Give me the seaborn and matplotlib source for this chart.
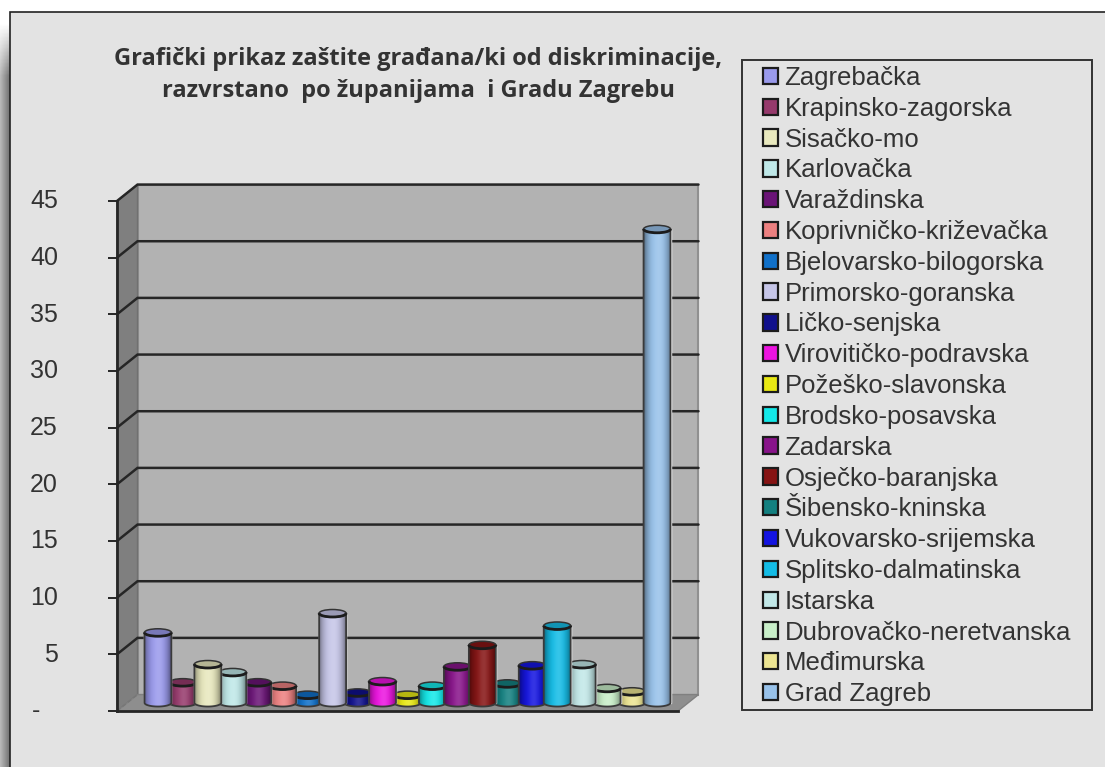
import numpy as np
import pandas as pd
import matplotlib
matplotlib.use("Agg")
import matplotlib.pyplot as plt
import matplotlib.colors as mcolors
from matplotlib.patches import Rectangle, Polygon, Ellipse, Arc
from matplotlib.transforms import ScaledTranslation
import seaborn as sns

counties = ["Zagrebačka", "Krapinsko-zagorska", "Sisačko-mo", "Karlovačka", "Varaždinska",
            "Koprivničko-križevačka", "Bjelovarsko-bilogorska", "Primorsko-goranska",
            "Ličko-senjska", "Virovitičko-podravska", "Požeško-slavonska", "Brodsko-posavska",
            "Zadarska", "Osječko-baranjska", "Šibensko-kninska", "Vukovarsko-srijemska",
            "Splitsko-dalmatinska", "Istarska", "Dubrovačko-neretvanska", "Međimurska",
            "Grad Zagreb"]
cases = [6.2, 1.8, 3.4, 2.7, 1.8, 1.5, 0.7, 7.9, 0.9, 1.9, 0.7, 1.5, 3.2, 5.1, 1.7, 3.3,
         6.8, 3.4, 1.3, 1.0, 41.8]
y_ticks = [0, 5, 10, 15, 20, 25, 30, 35, 40, 45]
y_tick_labels = ["-\u2002\u2009", "5", "10", "15", "20", "25", "30", "35", "40", "45"]
title = "Grafički prikaz zaštite građana/ki od diskriminacije,\nrazvrstano  po županijama  i Gradu Zagrebu"
colors = ["#9A9AEC", "#963A6C", "#E8E8BE", "#BFE8E8", "#6A1476", "#EC8080", "#1070C8",
          "#C6C6E8", "#10108C", "#EC14E0", "#E8E814", "#14E8E8", "#88148A", "#861414",
          "#148080", "#1414E0", "#14BCE6", "#C2E8E8", "#C8EEC8", "#ECE492", "#98C2EA"]

W, H = 1105, 767
sns.set_theme(style="white")
plt.rcParams["font.family"] = ["Liberation Sans", "DejaVu Sans"]
DARK = "#262626"
TEXT = "#333333"

fig = plt.figure(figsize=(W / 100, H / 100), dpi=100, facecolor="white")

# page panel and its soft left shadow
shadow = fig.add_axes([0, 0, 10 / W, 1 - 22 / H], zorder=-3)
grad = np.linspace(0.72, 0.42, 12)[None, :].repeat(200, 0)
fade = np.clip(np.linspace(0, 1, 200) * 14, 0, 1)[:, None]
shadow.imshow(1 - fade * (1 - grad), cmap="gray", vmin=0, vmax=1, aspect="auto")
shadow.axis("off")
fig.add_artist(Rectangle((10 / W, -0.1), 1.1, 1.1 - 12 / H, transform=fig.transFigure,
                         fc="#E3E3E3", ec="#222222", lw=1.2, zorder=-2))

ax = fig.add_axes([117 / W, (H - 711) / H, 561 / W, 510 / H])
ax.patch.set_visible(False)

df = pd.DataFrame({"county": counties, "cases": cases})
sns.barplot(data=df, x="county", y="cases", hue="county", palette=colors, hue_order=counties,
            order=counties, dodge=False, width=1.08, saturation=1, legend=True, ax=ax,
            zorder=3)
handles, labels = ax.get_legend_handles_labels()
ax.get_legend().remove()
bars = sorted(list(ax.patches), key=lambda p: p.get_x())
bars = [b for b in bars if b.get_height() > 0]

ax.set_xlim(-1.64, 20.84)
ax.set_ylim(0, 45)
ax.set_xlabel("")
ax.set_ylabel("")
ax.set_xticks([])
ax.set_yticks(y_ticks)
ax.set_yticklabels(y_tick_labels, fontsize=18, color=TEXT)
ax.tick_params(axis="y", left=True, length=6.5, width=1.4, color=DARK, pad=36)
for lab in ax.get_yticklabels():
    lab.set_transform(lab.get_transform() + ScaledTranslation(0, 0.02, fig.dpi_scale_trans))
for side in ("top", "right"):
    ax.spines[side].set_visible(False)
for side in ("left", "bottom"):
    ax.spines[side].set_color(DARK)
    ax.spines[side].set_linewidth(2)

# box walls, in axes-fraction x and value y
DX, DY = 20.5 / 561, 1.45
tr = ax.get_yaxis_transform()
top = y_ticks[-1]
ax.add_patch(Polygon([(DX, DY), (1 + DX, DY), (1 + DX, top + DY), (DX, top + DY)],
                     transform=tr, fc="#B2B2B2", ec="#909090", lw=1.5, clip_on=False, zorder=0.5))
ax.add_patch(Polygon([(0, 0), (DX, DY), (DX, top + DY), (0, top)],
                     transform=tr, fc="#7F7F7F", ec="#707070", lw=1, clip_on=False, zorder=0.6))
ax.add_patch(Polygon([(0, 0), (1, 0), (1 + DX, DY), (DX, DY)],
                     transform=tr, fc="#8E8E8E", ec="#808080", lw=1, clip_on=False, zorder=0.7))
for v in y_ticks[1:]:
    ax.plot([0, DX, 1 + DX], [v, v + DY, v + DY], transform=tr, color=DARK, lw=1.8,
            clip_on=False, zorder=1, solid_joinstyle="miter")
ax.plot([0, DX], [0, DY], transform=tr, color="#777777", lw=1, ls=(0, (3, 2)), clip_on=False, zorder=1)

# cylinders built on the seaborn bars
ELL = 0.66
ranks = np.argsort(np.argsort(cases))
for bar, col, rank in zip(bars, colors, ranks):
    bar.set_y(DY / 2)
    bar.set_clip_on(False)
    z = 3 + rank * 0.1
    bar.set_zorder(z)
    x0, w, h = bar.get_x(), bar.get_width(), bar.get_height()
    y0 = bar.get_y()
    rgb = np.array(mcolors.to_rgb(col))
    t = np.linspace(0, 1, 48)
    shade = 1 - 0.42 * np.abs(2 * t - 1) ** 2.6
    light = 0.14 * np.exp(-((t - 0.55) / 0.2) ** 2)
    img = (rgb[None, :] * shade[:, None]) * (1 - light[:, None]) + light[:, None]
    theta = np.linspace(np.pi, 2 * np.pi, 40)
    arc_x = x0 + w / 2 + w / 2 * np.cos(theta)
    arc_y = y0 + ELL / 2 * np.sin(theta)
    outline = np.vstack([[x0, y0 + h], np.c_[arc_x, arc_y], [x0 + w, y0 + h]])
    body = Polygon(outline, closed=True, fc="none", ec="none", transform=ax.transData)
    ax.add_patch(body)
    body.set_clip_on(False)
    im = ax.imshow(img[None, :, :], extent=(x0, x0 + w, y0 - ELL / 2, y0 + h), aspect="auto",
                   zorder=z + 0.01, interpolation="bilinear")
    im.set_clip_path(body)
    ax.plot(outline[:, 0], outline[:, 1], color="#3a3a3a", lw=1.3, zorder=z + 0.02, clip_on=False)
    ax.add_patch(Ellipse((x0 + w / 2, y0 + h), w, ELL, fc=rgb * 0.78, ec="#333333", lw=1.1,
                         zorder=z + 0.03, clip_on=False))
    ax.add_patch(Arc((x0 + w / 2, y0 + h), w, ELL, theta1=180, theta2=360, ec="#1c1c1c", lw=2.0,
                     zorder=z + 0.04, clip_on=False))
ax.set_xlim(-1.64, 20.84)
ax.set_ylim(0, 45)

# title
fig.text(418 / W, 1 - 75 / H, title, ha="center", va="center", fontsize=17, fontweight="bold",
         family="Open Sans", color=TEXT, linespacing=1.43)

# legend
fig.add_artist(Rectangle((742 / W, 1 - 710 / H), 350 / W, 650 / H, transform=fig.transFigure,
                         fc="none", ec="#333333", lw=1.4))
for hd in handles:
    hd.set_edgecolor("#1c1c1c")
    hd.set_linewidth(1.6)
leg = fig.legend(handles, labels, loc="upper left", bbox_to_anchor=(763 / W, 1 - 66 / H),
                 bbox_transform=fig.transFigure, frameon=False, fontsize=18.5, ncol=1,
                 borderpad=0, borderaxespad=0, handlelength=0.6, handleheight=0.6,
                 handletextpad=0.24, labelspacing=0.265, labelcolor=TEXT)

fig.savefig("out.png", dpi=100, facecolor="white")
